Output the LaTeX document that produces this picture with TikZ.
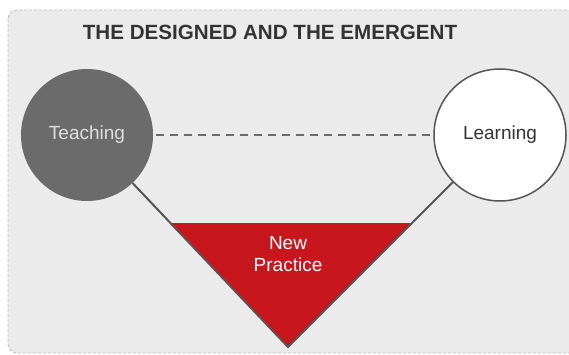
\documentclass[tikz,border=0pt]{standalone}
\usepackage{fontspec}
\setmainfont{Liberation Sans}
\usetikzlibrary{calc}
\definecolor{bgfill}{HTML}{EBEBEB}
\definecolor{bgborder}{HTML}{BDBDBD}
\definecolor{darkcirc}{HTML}{6B6B6B}
\definecolor{linegray}{HTML}{555555}
\definecolor{redfill}{HTML}{C8161D}
\definecolor{titlegray}{HTML}{333333}
\tikzset{
  circnode/.style={circle, minimum size=132pt, inner sep=0pt, font=\fontsize{19}{22}\selectfont},
  legline/.style={draw=linegray, line width=2pt},
}
\begin{document}
\begin{tikzpicture}[x=1pt,y=-1pt]
\useasboundingbox (0,0) rectangle (569,355);
\clip (0,0) rectangle (569,355);
\draw[bgborder, fill=bgfill, dashed, line width=0.8pt, rounded corners=9pt, dash pattern=on 3pt off 2pt] (8,10) rectangle (590,353);
\node[font=\bfseries\fontsize{20.6}{24}\selectfont, text=titlegray] (title) at (270,32) {THE DESIGNED AND THE EMERGENT};
\coordinate (apex) at (288,347);
\fill[redfill] (170,223) -- (412,223) -- (apex) -- cycle;
\node[circnode, fill=darkcirc, text=white!87!black] (T) at (87,135) {Teaching};
\node[circnode, fill=white, draw=linegray, line width=1.5pt, text=titlegray] (L) at (500,135) {Learning};
\draw[legline] (T) -- (apex) -- (L);
\draw[draw=darkcirc, line width=2pt, dash pattern=on 8pt off 6pt, shorten <=3pt, shorten >=3pt] (T) -- (L);
\node[text=white, align=center, font=\fontsize{19}{22}\selectfont] (np) at (288,254) {New\\Practice};
\end{tikzpicture}
\end{document}
